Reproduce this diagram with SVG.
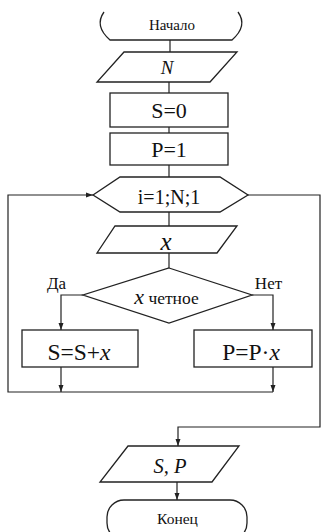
<svg xmlns="http://www.w3.org/2000/svg" width="321" height="532" viewBox="0 0 321 532">
<style>
.s{fill:#fff;stroke:#222;stroke-width:1.3}
.c{fill:none;stroke:#222;stroke-width:1.2}
text{font-family:"Liberation Serif","Times New Roman",serif;fill:#111;text-anchor:middle}
.i{font-style:italic}
</style>
<defs>
<marker id="a" markerWidth="8" markerHeight="8" refX="7" refY="4" orient="auto" markerUnits="userSpaceOnUse">
<path d="M0,1.5 L7,4 L0,6.5 Z" fill="#222"/>
</marker>
</defs>
<rect width="321" height="532" fill="#fff"/>
<g id="connectors">
<path class="c" d="M170,40 V52"/>
<path class="c" d="M169,82 V93"/>
<path class="c" d="M169,127 V133"/>
<path class="c" d="M169,165 V177"/>
<path class="c" d="M169,212 V226"/>
<path class="c" d="M169,253 V268"/>
<path class="c" d="M83,295 H61 V330" marker-end="url(#a)"/>
<path class="c" d="M252,295 H273 V330" marker-end="url(#a)"/>
<path class="c" d="M61,367 V392" marker-end="url(#a)"/>
<path class="c" d="M273,367 V392" marker-end="url(#a)"/>
<path class="c" d="M273,392 H8 V195 H93" marker-end="url(#a)"/>
<path class="c" d="M248,195 H320 V427 H178 V446" marker-end="url(#a)"/>
<path class="c" d="M177,482 V500" marker-end="url(#a)"/>
</g>
<g id="start">
<path class="s" d="M104,12 Q94,26 110,40 H232 Q248,26 238,12"/>
<text x="172" y="29.5" font-size="15">Начало</text>
</g>
<g id="inputN">
<polygon class="s" points="124,52 237,52 210,82 97,82"/>
<text x="167" y="74" font-size="19" class="i">N</text>
</g>
<g id="s0">
<rect class="s" x="110" y="93" width="118" height="34"/>
<text x="169" y="117.5" font-size="22">S=0</text>
</g>
<g id="p1">
<rect class="s" x="110" y="133" width="118" height="32"/>
<text x="169" y="156.5" font-size="22">P=1</text>
</g>
<g id="loop">
<polygon class="s" points="93,195 120,177 220,177 248,195 220,212 120,212"/>
<text x="169" y="204" font-size="20">i=1;N;1</text>
</g>
<g id="inputX">
<polygon class="s" points="115,226 237,226 217,253 97,253"/>
<text x="166" y="250" font-size="25" class="i">x</text>
</g>
<g id="cond">
<polygon class="s" points="169,268 252,295 169,323 83,295"/>
<text x="166.5" y="304" font-size="17.5"><tspan class="i" font-size="22">x</tspan> четное</text>
<text x="56.5" y="288.5" font-size="17">Да</text>
<text x="268.5" y="288.5" font-size="17">Нет</text>
</g>
<g id="sum">
<rect class="s" x="22" y="330" width="116" height="37"/>
<text x="79" y="360" font-size="23.5">S=S+<tspan class="i">x</tspan></text>
</g>
<g id="prod">
<rect class="s" x="194" y="330" width="118" height="37"/>
<text x="251" y="360" font-size="23.5">P=P·<tspan class="i">x</tspan></text>
</g>
<g id="output">
<polygon class="s" points="128,446 239,446 212,482 100,482"/>
<text x="170" y="473" font-size="20.5" class="i">S, P</text>
</g>
<g id="end">
<rect class="s" x="107" y="500" width="140" height="40" rx="17"/>
<text x="177.5" y="523.5" font-size="15.5">Конец</text>
</g>
</svg>
